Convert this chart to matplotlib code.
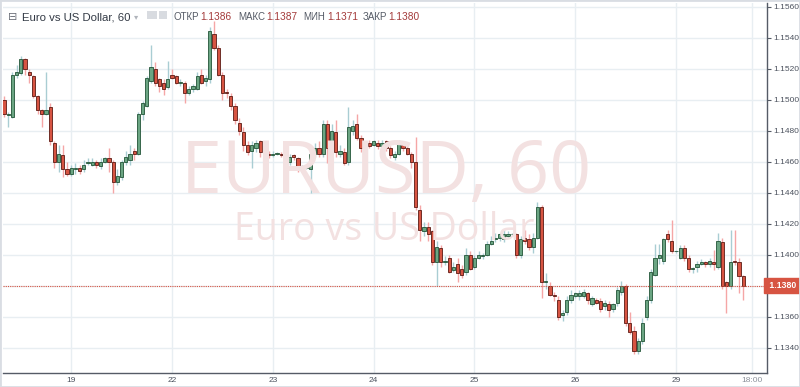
import numpy as np
import matplotlib.pyplot as plt
from matplotlib import font_manager
from matplotlib.patches import Rectangle

# EURUSD hourly candles, 18th (08:00) .. 29th (16:00)
opens = [1.1500, 1.1490, 1.1489, 1.1516, 1.1517, 1.1526, 1.1518, 1.1515, 1.1502, 1.1493,
         1.1491, 1.1495, 1.1472, 1.1460, 1.1464, 1.1455, 1.1452, 1.1455, 1.1456, 1.1455,
         1.1459, 1.1458, 1.1460, 1.1457, 1.1460, 1.1462, 1.1460, 1.1447, 1.1450, 1.1460,
         1.1461, 1.1467, 1.1465, 1.1491, 1.1496, 1.1512, 1.1520, 1.1513, 1.1511, 1.1508,
         1.1516, 1.1515, 1.1511, 1.1511, 1.1504, 1.1507, 1.1507, 1.1516, 1.1512, 1.1513,
         1.1542, 1.1533, 1.1516, 1.1505, 1.1502, 1.1496, 1.1485, 1.1479, 1.1471, 1.1467,
         1.1469, 1.1473, 1.1467, 1.1465, 1.1464, 1.1465, 1.1465, 1.1465, 1.1460, 1.1464,
         1.1462, 1.1455, 1.1456, 1.1455, 1.1465, 1.1469, 1.1465, 1.1484, 1.1469, 1.1479,
         1.1465, 1.1466, 1.1460, 1.1480, 1.1484, 1.1475, 1.1467, 1.1472, 1.1471, 1.1472,
         1.1470, 1.1473, 1.1469, 1.1463, 1.1465, 1.1471, 1.1469, 1.1465, 1.1460, 1.1429,
         1.1415, 1.1418, 1.1415, 1.1395, 1.1404, 1.1395, 1.1398, 1.1390, 1.1394, 1.1391,
         1.1389, 1.1400, 1.1392, 1.1398, 1.1399, 1.1400, 1.1407, 1.1410, 1.1411, 1.1410,
         1.1412, 1.1413, 1.1413, 1.1400, 1.1411, 1.1410, 1.1405, 1.1411, 1.1431, 1.1382,
         1.1380, 1.1374, 1.1371, 1.1361, 1.1363, 1.1371, 1.1373, 1.1373, 1.1373, 1.1375,
         1.1368, 1.1371, 1.1370, 1.1367, 1.1368, 1.1365, 1.1369, 1.1376, 1.1380, 1.1356,
         1.1351, 1.1338, 1.1344, 1.1360, 1.1371, 1.1387, 1.1398, 1.1396, 1.1413, 1.1409,
         1.1402, 1.1398, 1.1404, 1.1398, 1.1391, 1.1392, 1.1394, 1.1395, 1.1394, 1.1395,
         1.1392, 1.1408, 1.1382, 1.1380, 1.1396, 1.1395, 1.1386]
highs = [1.1502, 1.1492, 1.1518, 1.1522, 1.1528, 1.1527, 1.1520, 1.1516, 1.1503, 1.1494,
         1.1518, 1.1498, 1.1473, 1.1471, 1.1471, 1.1460, 1.1458, 1.1459, 1.1458, 1.1461,
         1.1462, 1.1462, 1.1461, 1.1462, 1.1463, 1.1469, 1.1461, 1.1455, 1.1461, 1.1467,
         1.1471, 1.1469, 1.1492, 1.1499, 1.1515, 1.1535, 1.1524, 1.1514, 1.1513, 1.1525,
         1.1520, 1.1516, 1.1513, 1.1512, 1.1509, 1.1510, 1.1518, 1.1520, 1.1516, 1.1547,
         1.1551, 1.1535, 1.1518, 1.1507, 1.1504, 1.1498, 1.1488, 1.1482, 1.1473, 1.1473,
         1.1474, 1.1474, 1.1469, 1.1467, 1.1467, 1.1466, 1.1466, 1.1467, 1.1465, 1.1465,
         1.1463, 1.1458, 1.1457, 1.1467, 1.1472, 1.1473, 1.1487, 1.1487, 1.1484, 1.1487,
         1.1471, 1.1469, 1.1495, 1.1487, 1.1491, 1.1477, 1.1472, 1.1474, 1.1474, 1.1474,
         1.1474, 1.1474, 1.1470, 1.1467, 1.1474, 1.1473, 1.1471, 1.1466, 1.1476, 1.1432,
         1.1421, 1.1421, 1.1416, 1.1409, 1.1406, 1.1399, 1.1400, 1.1395, 1.1398, 1.1393,
         1.1404, 1.1402, 1.1400, 1.1402, 1.1401, 1.1409, 1.1412, 1.1414, 1.1414, 1.1416,
         1.1415, 1.1414, 1.1414, 1.1412, 1.1416, 1.1413, 1.1414, 1.1434, 1.1432, 1.1388,
         1.1382, 1.1376, 1.1373, 1.1364, 1.1373, 1.1377, 1.1376, 1.1377, 1.1378, 1.1376,
         1.1373, 1.1372, 1.1372, 1.1371, 1.1370, 1.1369, 1.1379, 1.1383, 1.1381, 1.1363,
         1.1354, 1.1346, 1.1359, 1.1373, 1.1391, 1.1407, 1.1407, 1.1411, 1.1416, 1.1422,
         1.1403, 1.1406, 1.1406, 1.1400, 1.1392, 1.1396, 1.1397, 1.1396, 1.1398, 1.1403,
         1.1414, 1.1411, 1.1383, 1.1416, 1.1416, 1.1398, 1.1387]
lows = [1.1489, 1.1482, 1.1488, 1.1514, 1.1516, 1.1516, 1.1511, 1.1501, 1.1491, 1.1482,
        1.1490, 1.1471, 1.1456, 1.1453, 1.1450, 1.1451, 1.1451, 1.1452, 1.1452, 1.1453,
        1.1458, 1.1457, 1.1456, 1.1455, 1.1459, 1.1453, 1.1440, 1.1445, 1.1448, 1.1458,
        1.1458, 1.1461, 1.1464, 1.1487, 1.1495, 1.1511, 1.1509, 1.1505, 1.1503, 1.1507,
        1.1513, 1.1510, 1.1509, 1.1498, 1.1503, 1.1505, 1.1506, 1.1510, 1.1509, 1.1511,
        1.1532, 1.1515, 1.1500, 1.1501, 1.1493, 1.1484, 1.1477, 1.1467, 1.1464, 1.1456,
        1.1466, 1.1463, 1.1464, 1.1462, 1.1463, 1.1464, 1.1463, 1.1459, 1.1458, 1.1461,
        1.1453, 1.1453, 1.1455, 1.1440, 1.1463, 1.1463, 1.1463, 1.1459, 1.1456, 1.1463,
        1.1463, 1.1458, 1.1458, 1.1477, 1.1474, 1.1466, 1.1466, 1.1469, 1.1470, 1.1468,
        1.1469, 1.1467, 1.1462, 1.1461, 1.1464, 1.1467, 1.1464, 1.1456, 1.1429, 1.1409,
        1.1412, 1.1409, 1.1393, 1.1380, 1.1392, 1.1393, 1.1388, 1.1389, 1.1382, 1.1385,
        1.1387, 1.1390, 1.1391, 1.1397, 1.1397, 1.1399, 1.1406, 1.1408, 1.1409, 1.1408,
        1.1411, 1.1412, 1.1398, 1.1398, 1.1407, 1.1403, 1.1401, 1.1410, 1.1372, 1.1378,
        1.1373, 1.1370, 1.1358, 1.1357, 1.1361, 1.1369, 1.1372, 1.1371, 1.1372, 1.1368,
        1.1367, 1.1368, 1.1363, 1.1364, 1.1360, 1.1363, 1.1367, 1.1374, 1.1354, 1.1349,
        1.1336, 1.1336, 1.1342, 1.1358, 1.1369, 1.1386, 1.1394, 1.1394, 1.1408, 1.1401,
        1.1401, 1.1397, 1.1396, 1.1389, 1.1388, 1.1389, 1.1393, 1.1392, 1.1392, 1.1390,
        1.1391, 1.1378, 1.1362, 1.1378, 1.1393, 1.1375, 1.1371]
closes = [1.1491, 1.1491, 1.1516, 1.1518, 1.1526, 1.1520, 1.1516, 1.1502, 1.1493, 1.1491,
          1.1493, 1.1473, 1.1460, 1.1465, 1.1455, 1.1452, 1.1456, 1.1456, 1.1454, 1.1458,
          1.1460, 1.1460, 1.1458, 1.1460, 1.1462, 1.1460, 1.1447, 1.1451, 1.1460, 1.1463,
          1.1465, 1.1465, 1.1491, 1.1498, 1.1514, 1.1521, 1.1511, 1.1509, 1.1507, 1.1513,
          1.1514, 1.1511, 1.1511, 1.1504, 1.1507, 1.1509, 1.1515, 1.1511, 1.1514, 1.1544,
          1.1533, 1.1516, 1.1504, 1.1504, 1.1496, 1.1487, 1.1480, 1.1471, 1.1466, 1.1471,
          1.1472, 1.1466, 1.1465, 1.1464, 1.1465, 1.1465, 1.1464, 1.1462, 1.1463, 1.1463,
          1.1455, 1.1456, 1.1456, 1.1465, 1.1469, 1.1465, 1.1484, 1.1469, 1.1480, 1.1466,
          1.1467, 1.1459, 1.1482, 1.1483, 1.1475, 1.1469, 1.1471, 1.1470, 1.1473, 1.1470,
          1.1472, 1.1469, 1.1464, 1.1465, 1.1472, 1.1469, 1.1465, 1.1460, 1.1431, 1.1416,
          1.1418, 1.1413, 1.1395, 1.1405, 1.1395, 1.1396, 1.1389, 1.1392, 1.1388, 1.1387,
          1.1400, 1.1391, 1.1398, 1.1400, 1.1400, 1.1407, 1.1409, 1.1411, 1.1413, 1.1413,
          1.1413, 1.1413, 1.1400, 1.1410, 1.1409, 1.1405, 1.1411, 1.1431, 1.1382, 1.1383,
          1.1374, 1.1373, 1.1360, 1.1362, 1.1371, 1.1374, 1.1375, 1.1375, 1.1376, 1.1371,
          1.1372, 1.1369, 1.1365, 1.1369, 1.1364, 1.1368, 1.1377, 1.1380, 1.1356, 1.1350,
          1.1338, 1.1344, 1.1356, 1.1371, 1.1389, 1.1398, 1.1400, 1.1410, 1.1410, 1.1402,
          1.1402, 1.1404, 1.1398, 1.1391, 1.1391, 1.1394, 1.1395, 1.1394, 1.1396, 1.1394,
          1.1409, 1.1380, 1.1380, 1.1395, 1.1395, 1.1386, 1.1380]

day_ticks = [16, 40, 64, 88, 112, 136, 160, 178]   # bar index of each label
day_labels = ['19', '22', '23', '24', '25', '26', '29', '18:00']
price_ticks = [1.1340, 1.1360, 1.1380, 1.1400, 1.1420, 1.1440, 1.1460,
               1.1480, 1.1500, 1.1520, 1.1540, 1.1560]
last_price = 1.1380
legend_names = ['ОТКР', 'МАКС', 'МИН', 'ЗАКР']
legend_values = ['1.1386', '1.1387', '1.1371', '1.1380']

names = {f.name for f in font_manager.fontManager.ttflist}
narrow = 'Liberation Sans Narrow' if 'Liberation Sans Narrow' in names else 'Liberation Sans'

UP, UP_EDGE, UP_WICK = '#6ba583', '#225437', '#a9cdd3'
DN, DN_EDGE, DN_WICK = '#d75442', '#5b1a13', '#f5a6a6'
AXIS_TXT = '#4c525e'

O = np.array(opens); H = np.array(highs); L = np.array(lows); C = np.array(closes)
x = np.arange(len(C))
up = C >= O

fig = plt.figure(figsize=(8, 3.87), dpi=100)
ax = fig.add_axes([3 / 800, 1 - 373 / 387, 764 / 800, 370 / 387])
ax.set_xlim(-0.24, 181.67)
ax.set_ylim(1.13236, 1.15623)

# watermark
fig.text(386 / 800, 1 - 193 / 387, 'EURUSD, 60', ha='center', va='baseline',
         fontsize=53, color='#f3e1e1', family='Open Sans', zorder=0)
fig.text(384 / 800, 1 - 240 / 387, 'Euro vs US Dollar', ha='center', va='baseline',
         fontsize=27, color='#f3e1e1', family='Open Sans', zorder=0)
ax.patch.set_alpha(0)

# grid
ax.set_yticks(price_ticks)
ax.set_xticks(day_ticks)
ax.grid(True, color='#e8eef2', lw=1, zorder=1)
ax.set_axisbelow(True)

# candles
ax.vlines(x[up], L[up], H[up], color=UP_WICK, lw=1, zorder=2)
ax.vlines(x[~up], L[~up], H[~up], color=DN_WICK, lw=1, zorder=2)
body = np.maximum(np.abs(C - O), 0.00004)
bottom = np.minimum(O, C)
ax.bar(x[up], body[up], bottom=bottom[up], width=0.74, color=UP,
       edgecolor=UP_EDGE, lw=0.6, zorder=3)
ax.bar(x[~up], body[~up], bottom=bottom[~up], width=0.74, color=DN,
       edgecolor=DN_EDGE, lw=0.6, zorder=3)

# last price
ax.axhline(last_price, color=DN, ls=(0, (1, 1)), lw=0.8, zorder=4)
ax.text(1.0, last_price, ' 1.1380 ', transform=ax.get_yaxis_transform(),
        ha='left', va='center', fontsize=6.3, color='white', family='Liberation Sans',
        fontweight='bold', clip_on=False, zorder=10,
        bbox=dict(boxstyle='square,pad=0.35', fc=DN, ec=DN))

# axes styling
for s in ['left', 'top']:
    ax.spines[s].set_visible(False)
for s in ['right', 'bottom']:
    ax.spines[s].set_color('#555b66')
    ax.spines[s].set_linewidth(1)
ax.yaxis.tick_right()
ax.tick_params(axis='y', length=3, width=0.8, color='#555b66', pad=1.5,
               labelsize=6, labelcolor=AXIS_TXT)
ax.tick_params(axis='x', length=0, pad=3, labelsize=6, labelcolor=AXIS_TXT)
ax.set_yticklabels([f'{p:.4f}' for p in price_ticks], family=narrow)
ax.set_xticklabels(day_labels, family=narrow)
ax.get_xticklabels()[-1].set_color('#8b909a')
# the last-price box covers its own tick label
for p, lab in zip(price_ticks, ax.get_yticklabels()):
    if abs(p - last_price) < 1e-9:
        lab.set_visible(False)

# header legend
fig.text(8 / 800, 1 - 20 / 387, '⊟', fontsize=8, color='#6b6f78', family='DejaVu Sans')
fig.text(22 / 800, 1 - 20 / 387, 'Euro vs US Dollar, 60', fontsize=8.2, color='#333a45',
         family='Liberation Sans')
fig.text(134 / 800, 1 - 19 / 387, '▾', fontsize=6, color='#b0b4bb', family='DejaVu Sans')
fig.patches.append(Rectangle((147 / 800, 1 - 19 / 387), 10 / 800, 8 / 387,
                             transform=fig.transFigure, fc='#d8dbe0', ec='none'))
fig.patches.append(Rectangle((159 / 800, 1 - 19 / 387), 8 / 800, 8 / 387,
                             transform=fig.transFigure, fc='#d8dbe0', ec='none'))
name_x = [174, 238, 303, 363]
value_x = [200, 266, 327, 388]
for nx, vx, n, v in zip(name_x, value_x, legend_names, legend_values):
    fig.text(nx / 800, 1 - 20 / 387, n, fontsize=7, color='#555b66', family=narrow)
    fig.text(vx / 800, 1 - 20 / 387, v, fontsize=7.3, color='#a33a3a', family='Liberation Sans')

# outer frame
fig.patches.append(Rectangle((0, 0), 1, 1, transform=fig.transFigure,
                             fc='none', ec='#d9dde3', lw=2))

fig.savefig('out.png', dpi=100)
